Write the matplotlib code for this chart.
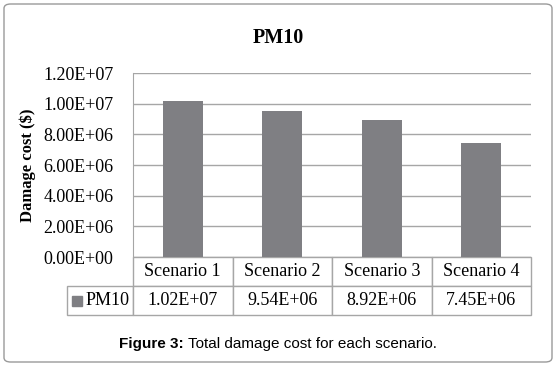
import matplotlib
matplotlib.use('Agg')
import matplotlib.pyplot as plt
from matplotlib.patches import FancyBboxPatch

scenarios = ['Scenario 1', 'Scenario 2', 'Scenario 3', 'Scenario 4']
pm10 = [1.02e7, 9.54e6, 8.92e6, 7.45e6]
series_name = 'PM10'
y_ticks = [0, 2e6, 4e6, 6e6, 8e6, 1.0e7, 1.2e7]

plt.rcParams['font.family'] = 'Liberation Serif'
bar_color = '#7f7f83'
line_color = '#a6a6a6'

fig = plt.figure(figsize=(5.56, 3.66), dpi=100)

# outer rounded frame
frame = FancyBboxPatch((4 / 556, 4 / 366), 548 / 556, 358 / 366,
                       boxstyle='round,pad=0,rounding_size=0.012',
                       transform=fig.transFigure, fill=False,
                       edgecolor='#9a9a9a', linewidth=1.0)
fig.patches.append(frame)

ax = fig.add_axes([133 / 556, 1 - 257 / 366, (531 - 133) / 556, (257 - 73) / 366])

x = range(len(scenarios))
ax.bar(x, pm10, width=0.4, color=bar_color, zorder=3)
ax.set_xlim(-0.5, len(scenarios) - 0.5)
ax.set_ylim(0, 1.2e7)
ax.set_yticks(y_ticks)
ax.set_yticklabels([f'{v:.2E}' for v in y_ticks], fontsize=13)
ax.tick_params(axis='y', length=0, pad=14)
ax.set_xticks([])
ax.grid(axis='y', color=line_color, linewidth=1.0, zorder=0)
for side in ['top', 'right', 'bottom']:
    ax.spines[side].set_visible(False)
ax.spines['left'].set_color(line_color)

ax.set_ylabel('Damage cost ($)', fontsize=12, fontweight='bold', labelpad=5)
fig.text(0.5, 1 - 38 / 366, 'PM10', ha='center', va='center',
         fontsize=14.5, fontweight='bold')

# data table under the axis
tbl = ax.table(cellText=[[f'{v:.2E}' for v in pm10]],
               colLabels=scenarios, colWidths=[0.25] * 4,
               cellLoc='center', bbox=[0, -0.315, 1, 0.315])
row_h = tbl[1, 0].get_height()
tbl.add_cell(1, -1, width=0.166, height=row_h, text=series_name, loc='right')
tbl.auto_set_font_size(False)
tbl.set_fontsize(13)
for (r, c), cell in tbl.get_celld().items():
    cell.set_edgecolor(line_color)
    cell.set_linewidth(1.0)
    cell.get_text().set_fontfamily('Liberation Serif')
    if c == -1:
        cell.PAD = 0.05

# legend key in the row label cell
ax.plot([-0.14], [-0.239], marker='s', markersize=7, color=bar_color,
        transform=ax.transAxes, clip_on=False, linestyle='none')

# caption, centred as a whole
cap_y = 1 - 344 / 366
t_bold = fig.text(0, cap_y, 'Figure 3:', ha='left', va='center',
                  fontsize=11, family='Liberation Sans', fontweight='bold')
t_rest = fig.text(0, cap_y, ' Total damage cost for each scenario.',
                  ha='left', va='center', fontsize=11, family='Liberation Sans')
renderer = fig.canvas.get_renderer()
w1 = t_bold.get_window_extent(renderer).width / fig.bbox.width
w2 = t_rest.get_window_extent(renderer).width / fig.bbox.width
start = 0.5 - (w1 + w2) / 2
t_bold.set_x(start)
t_rest.set_x(start + w1)

fig.savefig('out.png', dpi=100)
